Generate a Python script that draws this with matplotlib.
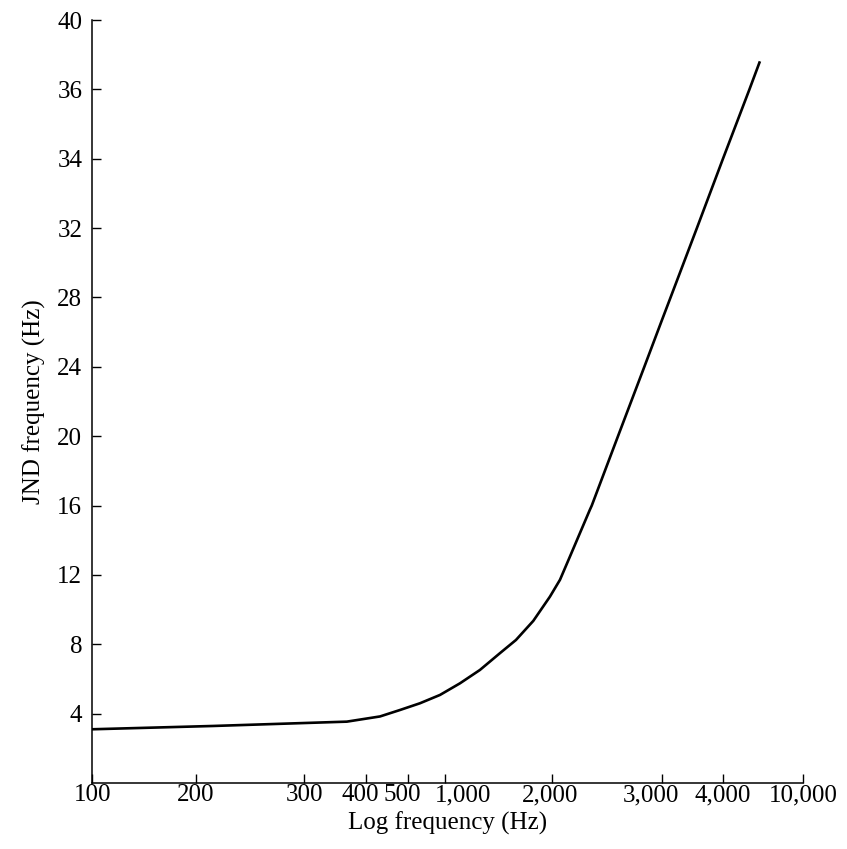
import numpy as np
import matplotlib
matplotlib.use("Agg")
import matplotlib.pyplot as plt
from matplotlib.transforms import ScaledTranslation

# Curve: frequency (Hz) and JND (Hz)
freq = [100, 213, 366, 431, 479, 626, 911, 1102, 1254, 1428, 1584, 1772, 1974,
        2060, 2137, 2217, 2300, 2316, 2551, 2811, 3000, 3124, 3537, 4000, 5417, 6108]
jnd = [3.10, 3.29, 3.54, 3.84, 4.21, 4.60, 5.08, 5.75, 6.52, 7.49, 8.25, 9.35, 10.75,
       11.72, 13.06, 14.41, 15.76, 16.0, 20.0, 24.0, 26.70, 28.0, 32.0, 34.0, 36.0, 37.62]

# Axis ticks as printed (the original axes are not uniform)
x_ticks = [100, 200, 300, 400, 500, 1000, 2000, 3000, 4000, 10000]
x_labels = ["100", "200", "300", "400", "500", "1,000", "2,000", "3,000", "4,000", "10,000"]
x_tick_pos = [0, 104, 212, 274, 316, 353, 460, 570, 631, 711]
x_label_shift = [1, 0, 1, -6, -6, 18, -2, -11, 0, 0]   # pixels

y_ticks = [4, 8, 12, 16, 20, 24, 28, 32, 34, 36, 40]
y_levels = [0] + y_ticks
y_tick_pos = np.arange(len(y_levels))

x_log = np.log10(x_ticks)


def x_fwd(v):
    v = np.clip(np.asarray(v, dtype=float), 1e-9, None)
    return np.interp(np.log10(v), x_log, x_tick_pos)


def x_inv(p):
    return 10 ** np.interp(p, x_tick_pos, x_log)


def y_fwd(v):
    return np.interp(v, y_levels, y_tick_pos)


def y_inv(p):
    return np.interp(p, y_tick_pos, y_levels)


plt.rcParams['font.family'] = ['Liberation Serif', 'DejaVu Serif']

fig = plt.figure(figsize=(8.47, 8.49), dpi=100)
ax = fig.add_axes([0.1086, 0.0777, 0.8394, 0.8987])

ax.set_xscale('function', functions=(x_fwd, x_inv))
ax.set_yscale('function', functions=(y_fwd, y_inv))

ax.plot(freq, jnd, color='black', linewidth=1.9, solid_capstyle='butt',
        solid_joinstyle='round')

ax.set_xlim(100, 10000)
ax.set_ylim(0, 40)

ax.set_xticks(x_ticks)
ax.set_xticklabels(x_labels)
ax.set_yticks(y_ticks)
ax.set_yticklabels([str(t) for t in y_ticks])
ax.minorticks_off()

for s in ['top', 'right']:
    ax.spines[s].set_visible(False)
for s in ['left', 'bottom']:
    ax.spines[s].set_linewidth(1.1)

ax.tick_params(axis='both', direction='in', length=6.5, width=1.0,
               labelsize=18, colors='black')
ax.tick_params(axis='x', pad=1)
ax.tick_params(axis='y', pad=7)

# nudge crowded x labels like the printed figure
for lab, dx in zip(ax.get_xticklabels(), x_label_shift):
    lab.set_transform(lab.get_transform() + ScaledTranslation(dx / 100, 0, fig.dpi_scale_trans))

ax.set_xlabel('Log frequency (Hz)', fontsize=18, labelpad=4)
ax.set_ylabel('JND frequency (Hz)', fontsize=18, labelpad=8)

fig.savefig('out.png', dpi=100)
